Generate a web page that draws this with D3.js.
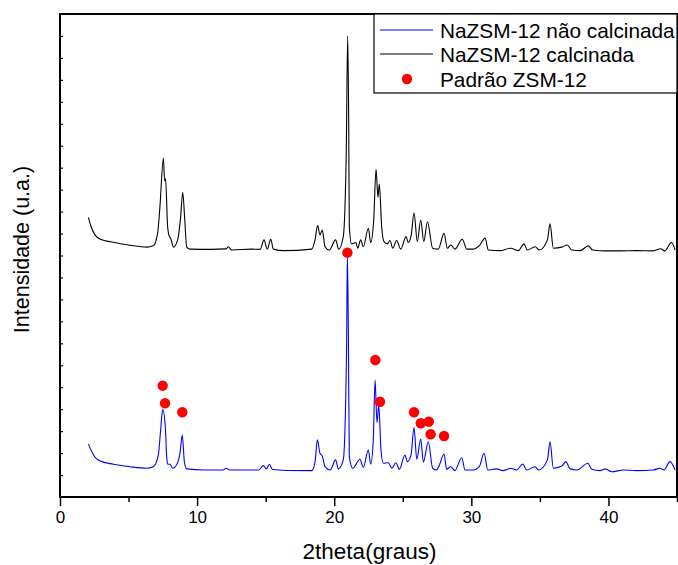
<!DOCTYPE html>
<meta charset="utf-8">
<script src="https://d3js.org/d3.v7.min.js"></script>
<style>
  body { margin: 0; background: #fff; }
  text { font-family: "Liberation Sans", Arial, sans-serif; }
</style>
<div id="my_dataviz"></div>
<script>

// 2theta / intensity (intensity in arbitrary units)
var blueTheta = [2.07,2.55,2.9,3.9,5.1,6.3,6.8,7.17,7.34,7.49,7.68,7.78,7.85,8.02,8.22,8.5,8.75,8.92,9.07,9.24,
  10.5,11.9,12.1,12.4,13.86,14.5,14.83,15.05,15.27,15.5,16.5,18.36,18.6,18.77,18.96,19.13,19.33,19.7,20.1,20.3,
  20.66,20.9,20.96,21.03,21.1,21.35,21.88,22.12,22.49,22.66,22.85,22.98,23.12,23.25,23.41,23.58,23.95,24.2,24.5,24.75,
  25.16,25.33,25.6,25.82,26.02,26.31,26.5,26.86,27.18,27.47,27.67,28.01,28.2,28.5,28.8,29.3,29.54,30.15,30.58,30.93,
  31.2,31.85,32.3,32.87,33.3,33.75,34.04,34.65,34.9,35.55,35.74,35.98,36.6,36.9,37.2,37.7,38.5,38.78,39.39,39.75,
  40.24,41.09,42.06,43.27,43.76,44.05,44.49,44.86];
var blueInt = [241,182,165,149,138,131,138,191,305,400,320,184,150,149,131,146,200,282,161,128,
  123,123,131,123,123,123,143,128,149,125,121,120,159,260,199,187,138,123,169,128,
  169,670,1103,761,184,131,172,135,214,150,260,533,339,419,214,154,156,131,156,126,
  191,161,191,316,172,264,159,252,131,123,146,196,126,138,120,179,123,123,138,199,
  123,128,120,131,123,150,123,138,123,169,252,131,141,161,128,123,154,126,120,128,
  115,123,120,123,131,123,161,123];

var blackTheta = [2.07,2.31,2.55,2.92,3.89,5.1,6.32,6.8,7.12,7.29,7.54,7.63,7.7,7.85,7.98,8.07,8.27,8.58,8.8,8.95,
  9.1,9.24,9.48,11,12.1,12.28,12.52,13.98,14.6,14.88,15.12,15.37,15.56,16.29,18.36,18.6,18.79,18.96,19.13,19.33,
  19.64,20.1,20.33,20.66,20.88,20.98,21.06,21.1,21.27,21.59,21.71,21.93,22.12,22.49,22.66,22.88,23.05,23.19,23.29,23.46,
  23.63,23.87,24.07,24.27,24.56,24.85,25.24,25.4,25.62,25.82,26.06,26.31,26.53,26.8,27.18,27.59,28.01,28.25,28.5,28.8,
  29.34,29.67,30.15,30.63,31.0,31.24,32.09,32.87,33.43,33.84,34.08,34.65,34.96,35.55,35.74,35.98,36.6,37.0,37.32,37.93,
  38.53,38.85,39.75,40.85,42.06,43.27,43.8,44.1,44.6,44.86];
var blackInt = [1274,1224,1194,1175,1160,1147,1138,1144,1201,1323,1543,1440,1449,1231,1186,1179,1138,1171,1277,1388,
  1262,1138,1129,1128,1130,1140,1125,1129,1128,1171,1129,1174,1129,1122,1129,1171,1236,1194,1216,1140,
  1125,1171,1129,1186,1581,2100,1672,1231,1153,1159,1133,1171,1140,1224,1159,1262,1493,1365,1426,1231,
  1163,1153,1168,1133,1168,1129,1186,1159,1194,1295,1163,1262,1163,1254,1133,1129,1201,1133,1148,1129,
  1174,1129,1129,1148,1179,1125,1122,1133,1122,1153,1125,1140,1125,1171,1244,1133,1138,1148,1125,1122,
  1144,1125,1121,1121,1122,1121,1131,1121,1159,1125];

// ZSM-12 reference pattern
var refTheta = [7.49,7.66,8.92,20.96,23.0,23.34,25.82,26.31,26.9,27.03,28.01];
var refInt = [507,427,386,1113,624,434,386,336,343,286,278];

var xTicks = [0,5,10,15,20,25,30,35,40,45];
var legendLabels = ["NaZSM-12 não calcinada", "NaZSM-12 calcinada", "Padrão ZSM-12"];

var W = 678, H = 565;
var margin = {top: 14, right: 1, bottom: 68, left: 60},
    width = W - margin.left - margin.right,
    height = H - margin.top - margin.bottom;

var svg = d3.select("#my_dataviz")
  .append("svg")
    .attr("width", W)
    .attr("height", H)
  .append("g")
    .attr("transform", "translate(" + margin.left + "," + margin.top + ")");

var x = d3.scaleLinear().domain([0, 45]).range([0, width]);
var y = d3.scaleLinear().domain([0, 2200]).range([height, 0]);

// curves
var line = d3.line()
  .curve(d3.curveMonotoneX)
  .x(function(d) { return x(d[0]); })
  .y(function(d) { return y(d[1]); });

svg.append("path")
  .datum(d3.zip(blackTheta, blackInt))
  .attr("fill", "none")
  .attr("stroke", "#000")
  .attr("stroke-width", 1.1)
  .attr("d", line);

svg.append("path")
  .datum(d3.zip(blueTheta, blueInt))
  .attr("fill", "none")
  .attr("stroke", "#0000ff")
  .attr("stroke-width", 1.1)
  .attr("d", line);

svg.append("g")
  .selectAll("circle")
  .data(d3.zip(refTheta, refInt))
  .enter()
  .append("circle")
    .attr("cx", function(d) { return x(d[0]); })
    .attr("cy", function(d) { return y(d[1]); })
    .attr("r", 5.2)
    .style("fill", "#ff0000");

// X axis
var xAxis = svg.append("g")
  .attr("transform", "translate(0," + height + ")")
  .call(d3.axisBottom(x).tickValues(xTicks)
    .tickFormat(function(d) { return d % 10 === 0 && d < 45 ? d : ""; }));
xAxis.select(".domain").remove();
xAxis.selectAll(".tick line")
  .attr("stroke-width", 1.5)
  .attr("y2", function(d) { return d % 10 === 0 ? 9 : 5; });
xAxis.selectAll(".tick text")
  .attr("y", 14)
  .style("font-size", "17px")
  .style("font-family", "'Liberation Sans', Arial, sans-serif");

// Y axis, ticks inward, no labels
var yAxis = svg.append("g")
  .call(d3.axisRight(y).tickValues(d3.range(100, 2200, 100)).tickSize(3).tickFormat(""));
yAxis.select(".domain").remove();
yAxis.selectAll(".tick line").attr("stroke-width", 1.2);

// frame
svg.append("rect")
  .attr("x", 0).attr("y", 0)
  .attr("width", width).attr("height", height)
  .attr("fill", "none")
  .attr("stroke", "#000")
  .attr("stroke-width", 2);

// axis titles
svg.append("text")
  .attr("x", width / 2 + 1)
  .attr("y", height + 62)
  .attr("text-anchor", "middle")
  .style("font-size", "22.5px")
  .text("2theta(graus)");

svg.append("text")
  .attr("transform", "rotate(-90)")
  .attr("x", -height / 2 + 6)
  .attr("y", -31)
  .attr("text-anchor", "middle")
  .style("font-size", "21.5px")
  .text("Intensidade (u.a.)");

// legend
var lg = svg.append("g").attr("transform", "translate(" + (374 - margin.left) + ",0)");
lg.append("rect")
  .attr("x", 0).attr("y", 0)
  .attr("width", width - (374 - margin.left)).attr("height", 79)
  .attr("fill", "#fff")
  .attr("stroke", "#000")
  .attr("stroke-width", 1.2);
lg.append("line").attr("x1", 6).attr("x2", 59).attr("y1", 16).attr("y2", 16)
  .attr("stroke", "#0000ff").attr("stroke-width", 1.1);
lg.append("line").attr("x1", 6).attr("x2", 59).attr("y1", 40).attr("y2", 40)
  .attr("stroke", "#000").attr("stroke-width", 1.1);
lg.append("circle").attr("cx", 33).attr("cy", 65).attr("r", 5.2).style("fill", "#ff0000");
lg.selectAll("text.leg")
  .data(legendLabels)
  .enter()
  .append("text")
    .attr("class", "leg")
    .attr("x", 66)
    .attr("y", function(d, i) { return 16 + i * 24.5; })
    .attr("dominant-baseline", "central")
    .style("font-size", "20.8px")
    .text(function(d) { return d; });

</script>
